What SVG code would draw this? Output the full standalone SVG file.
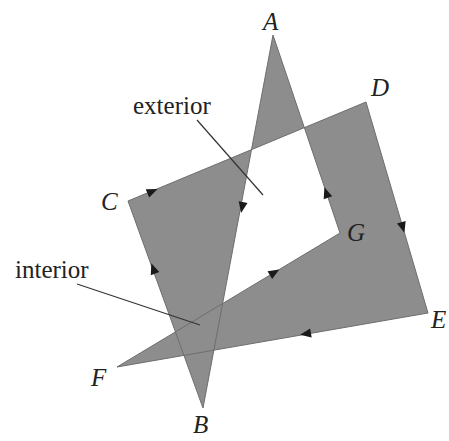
<svg xmlns="http://www.w3.org/2000/svg" width="449" height="441" viewBox="0 0 449 441">
  <defs>
    <style>
      .lbl { font-family: "Liberation Serif", "Times New Roman", serif; font-style: italic; font-size: 25px; fill: #222; }
      .word { font-family: "Liberation Serif", "Times New Roman", serif; font-size: 25px; fill: #222; }
      .lead { stroke: #333; stroke-width: 1.2; fill: none; }
      .arr { fill: #1a1a1a; }
    </style>
    <path id="ah" d="M5,0 L-6,-4.5 L-6,4.5 Z"/>
  </defs>
  <rect width="449" height="441" fill="#ffffff"/>
  <g id="polygon">
    <path d="M273,35 L203,408 L128,201 L366,102 L428,313 L117,367 L340,233 Z" fill="#8d8d8d" fill-rule="nonzero" stroke="#6e6e6e" stroke-width="1" stroke-linejoin="miter"/>
  </g>
  <g id="arrows">
    <use href="#ah" class="arr" transform="translate(242,208) rotate(100.6)"/>
    <use href="#ah" class="arr" transform="translate(153,268) rotate(-109.9)"/>
    <use href="#ah" class="arr" transform="translate(153,191) rotate(-22.6)"/>
    <use href="#ah" class="arr" transform="translate(403,228) rotate(73.6)"/>
    <use href="#ah" class="arr" transform="translate(305,334) rotate(170.15)"/>
    <use href="#ah" class="arr" transform="translate(275,272) rotate(-31)"/>
    <use href="#ah" class="arr" transform="translate(326,192) rotate(-108.7)"/>
  </g>
  <g id="connectors">
    <line class="lead" x1="197" y1="120" x2="263" y2="195"/>
    <line class="lead" x1="77" y1="284" x2="200" y2="325"/>
  </g>
  <g id="label-exterior"><text class="word" x="133" y="114">exterior</text></g>
  <g id="label-interior"><text class="word" x="15" y="278">interior</text></g>
  <g id="vertex-labels">
    <text class="lbl" x="263" y="30">A</text>
    <text class="lbl" x="193" y="433">B</text>
    <text class="lbl" x="101" y="210">C</text>
    <text class="lbl" x="371" y="96">D</text>
    <text class="lbl" x="431" y="328">E</text>
    <text class="lbl" x="91" y="386">F</text>
    <text class="lbl" x="347" y="241">G</text>
  </g>
</svg>
